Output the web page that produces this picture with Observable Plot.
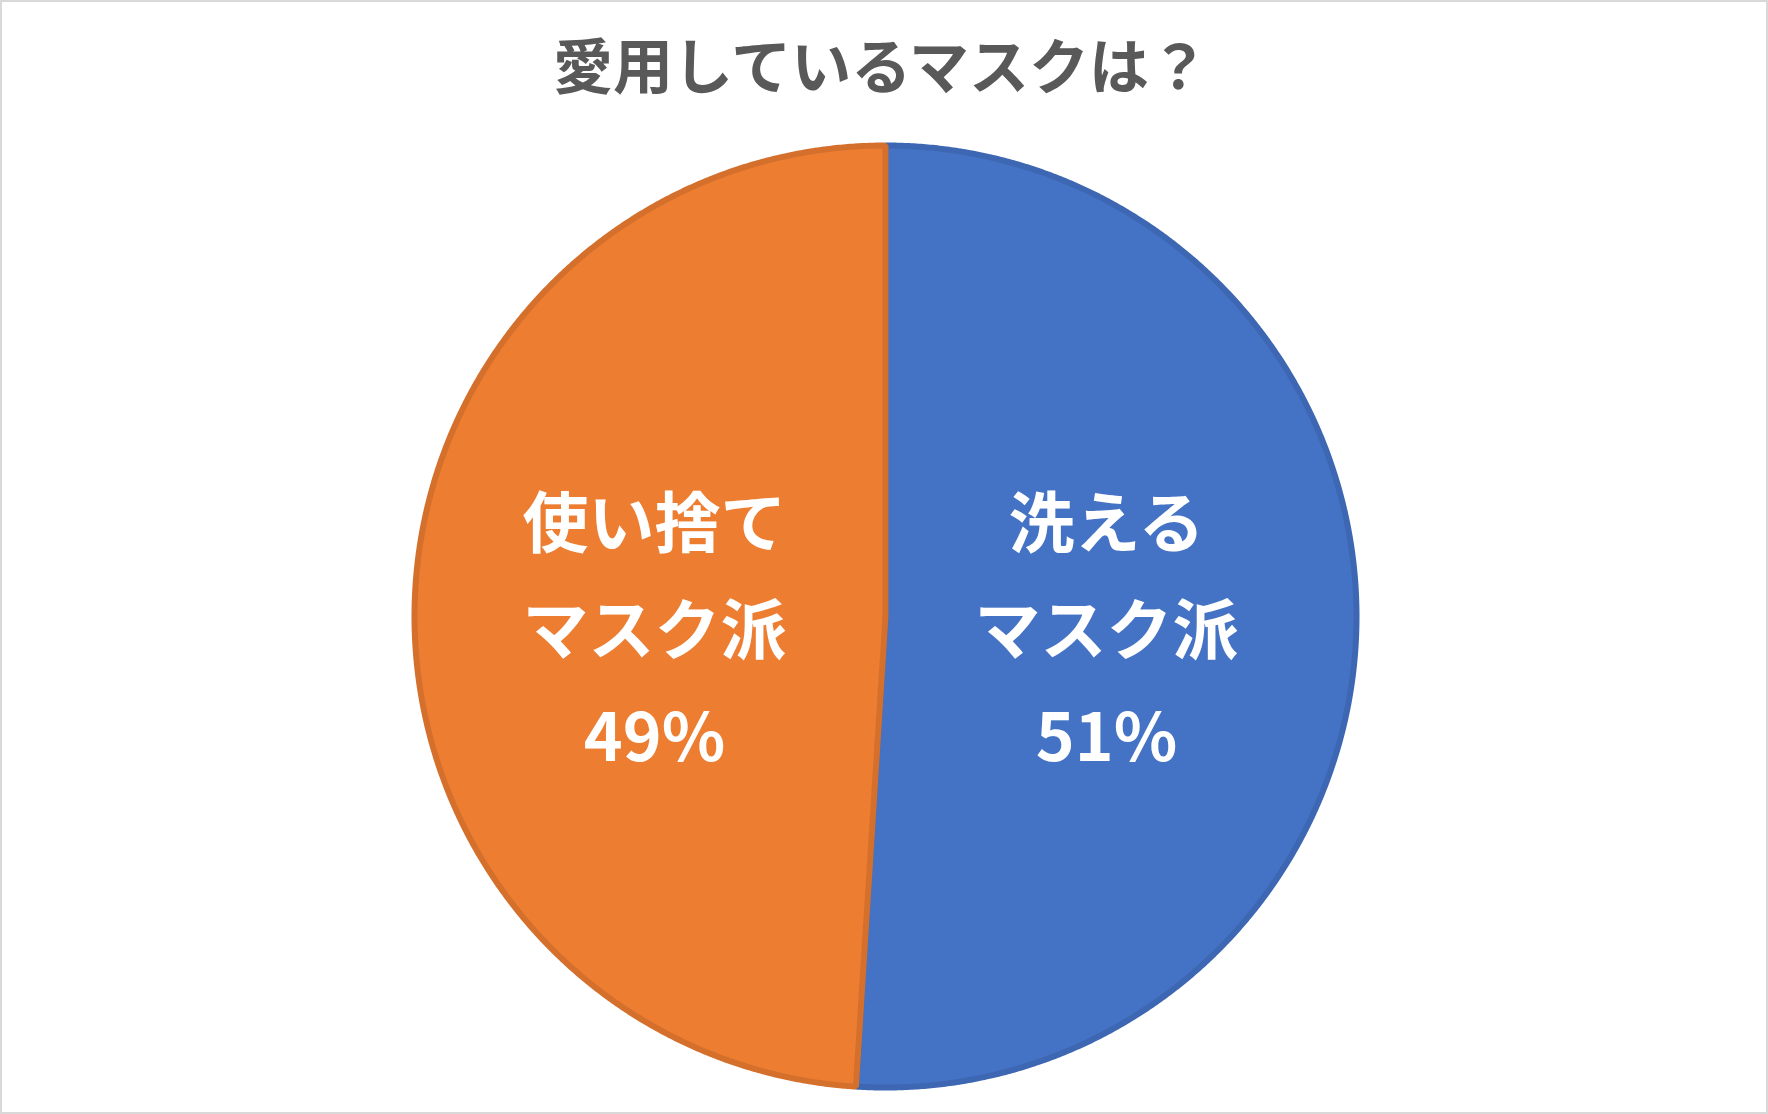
<!DOCTYPE html>
<html>
<head>
<meta charset="utf-8">
<script src="https://cdn.jsdelivr.net/npm/d3@7"></script>
<script src="https://cdn.jsdelivr.net/npm/@observablehq/plot@0.6"></script>
<style>
  html, body { margin: 0; padding: 0; background: #fff; }
  #frame {
    position: relative; width: 1768px; height: 1114px; box-sizing: border-box;
    border: 2px solid #D9D9D9; background: #fff; overflow: hidden;
  }
  #title {
    height: 120px; box-sizing: border-box; padding-top: 31px; padding-right: 6px;
    text-align: center; font-family: "Noto Sans CJK JP", sans-serif; font-weight: 700;
    font-size: 60px; line-height: 1; color: #595959;
  }
  #chart svg { display: block; }
</style>
</head>
<body>
<div id="frame">
  <div id="title">愛用しているマスクは？</div>
  <div id="chart"></div>
</div>
<script>
// ---- data ----
const categories = ["洗えるマスク派", "使い捨てマスク派"];
const labelLines = ["洗える\nマスク派", "使い捨て\nマスク派"];
const values = [51, 49];
const fillColors = ["#4472C4", "#ED7D31"];
const strokeColors = ["#3D67B2", "#D4702C"];

// ---- layout ----
const W = 1764, H = 990;
const cx = 883, cy = 494, R = 471;

const rows = categories.map((c, i) => ({category: c, label: labelLines[i], value: values[i], fill: fillColors[i], stroke: strokeColors[i]}));
const arcs = d3.pie().sort(null).value(d => d.value)(rows);

// polygon points for each slice (angles from 12 o'clock, clockwise)
const pts = [];
for (const a of arcs) {
  const d = a.data;
  pts.push({category: d.category, fill: d.fill, stroke: d.stroke, x: 0, y: 0});
  const n = Math.ceil((a.endAngle - a.startAngle) / 0.005);
  for (let k = 0; k <= n; k++) {
    const t = a.startAngle + (a.endAngle - a.startAngle) * k / n;
    pts.push({category: d.category, fill: d.fill, stroke: d.stroke, x: Math.sin(t), y: Math.cos(t)});
  }
}
// labels: horizontally at the slice's mid-angle, vertically centred on the pie
const labelR = 0.48;
const labels = arcs.map(a => {
  const m = (a.startAngle + a.endAngle) / 2;
  return {text: a.data.label + "\n" + a.data.value + "%", x: labelR * Math.sin(m), y: 0};
});

const chart = Plot.plot({
  width: W, height: H,
  margin: 0,
  x: {domain: [-cx / R, (W - cx) / R], axis: null},
  y: {domain: [-(H - cy) / R, cy / R], axis: null},
  color: {type: "identity"},
  style: {background: "transparent"},
  marks: [
    Plot.line(pts, {x: "x", y: "y", z: "category", fill: "fill", stroke: "stroke", strokeWidth: 6, curve: "linear-closed", strokeLinejoin: "miter"}),
    Plot.text(labels, {x: "x", y: "y", text: "text", fill: "white", fontSize: 66, fontWeight: "bold", dx: -5, dy: 3,
      fontFamily: "'Noto Sans CJK JP', sans-serif", lineHeight: 1.62})
  ]
});
document.getElementById("chart").appendChild(chart);
</script>
</body>
</html>
